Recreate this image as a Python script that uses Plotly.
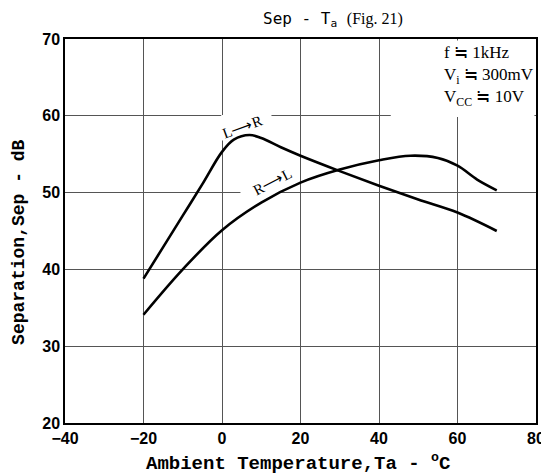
import plotly.graph_objects as go

# L->R curve
lr_x = [-20, -15, -10, -5, 0, 3, 7, 10, 15, 20, 30, 40, 50, 60, 70]
lr_y = [38.8, 42.9, 47.0, 51.1, 55.3, 56.9, 57.5, 57.1, 55.9, 54.8, 52.8, 50.9, 49.1, 47.4, 45.0]

# R->L curve
rl_x = [-20, -10, 0, 10, 20, 30, 40, 48, 55, 60, 65, 70]
rl_y = [34.1, 40.0, 45.1, 48.7, 51.3, 53.0, 54.2, 54.8, 54.5, 53.5, 51.7, 50.3]

x_ticks = [-40, -20, 0, 20, 40, 60, 80]
y_ticks = [20, 30, 40, 50, 60, 70]

fig = go.Figure()
for xs, ys in [(lr_x, lr_y), (rl_x, rl_y)]:
    fig.add_trace(go.Scatter(x=xs, y=ys, mode="lines",
                             line=dict(color="black", width=2.6, shape="spline", smoothing=1.0),
                             showlegend=False, hoverinfo="skip"))

# white areas hiding grid behind labels
for x0, x1, y0, y1 in [(43, 79.6, 59.85, 69.8), (-0.2, 12.6, 56.8, 60.1), (4.7, 15.0, 49.7, 53.5)]:
    fig.add_shape(type="rect", x0=x0, x1=x1, y0=y0, y1=y1, xref="x", yref="y",
                  fillcolor="white", line=dict(width=0), layer="between")

serif = "Liberation Serif"
fig.add_annotation(x=5.2, y=58.5, text="L⟶R", showarrow=False, textangle=-20,
                   font=dict(family=serif, size=15, color="black"))
fig.add_annotation(x=12.8, y=51.4, text="R⟶L", showarrow=False, textangle=-27,
                   font=dict(family=serif, size=15, color="black"))

fig.add_annotation(x=56.0, y=69.8, xanchor="left", yanchor="top", align="left",
                   text="f ≒ 1kHz<br>V<sub>i</sub> ≒ 300mV<br>V<sub>CC</sub> ≒ 10V",
                   showarrow=False, font=dict(family=serif, size=17, color="black"))

fig.add_annotation(xref="paper", yref="paper", x=0.416, y=1.052, xanchor="left", yanchor="middle",
                   text="Sep - T<sub>a</sub> <span style='font-family:Liberation Serif;font-size:16px'>(Fig. 21)</span>",
                   showarrow=False, font=dict(family="DejaVu Sans Mono", size=16, color="black"))

fig.add_annotation(xref="paper", yref="paper", x=0.495, y=-0.102, xanchor="center", yanchor="middle",
                   text="Ambient Temperature,Ta - <sup>o</sup>C", showarrow=False,
                   font=dict(family="Liberation Mono", size=19, color="black", weight="bold"))
fig.add_annotation(xref="paper", yref="paper", x=-0.099, y=0.47, xanchor="center", yanchor="middle",
                   text="Separation,Sep - dB", textangle=-90, showarrow=False,
                   font=dict(family="Liberation Mono", size=18, color="black", weight="bold"))

axis_font = dict(family="Liberation Sans", size=16, color="black", weight="bold")
fig.update_xaxes(range=[-40, 80], tickvals=x_ticks, showgrid=True, gridcolor="#555555", gridwidth=1,
                 zeroline=False, showline=True, linecolor="black", linewidth=1.5, mirror=True,
                 ticks="", tickfont=axis_font, automargin=False)
fig.update_yaxes(range=[20, 70], tickvals=y_ticks, showgrid=True, gridcolor="#555555", gridwidth=1,
                 zeroline=False, showline=True, linecolor="black", linewidth=1.5, mirror=True,
                 ticks="", tickfont=axis_font, automargin=False)

# page body adds an 8px offset, so the figure is 8px smaller than the window
fig.update_layout(width=541, height=467, plot_bgcolor="white", paper_bgcolor="white",
                  margin=dict(l=57, r=13, t=31, b=52))
fig.write_html("out.html")
